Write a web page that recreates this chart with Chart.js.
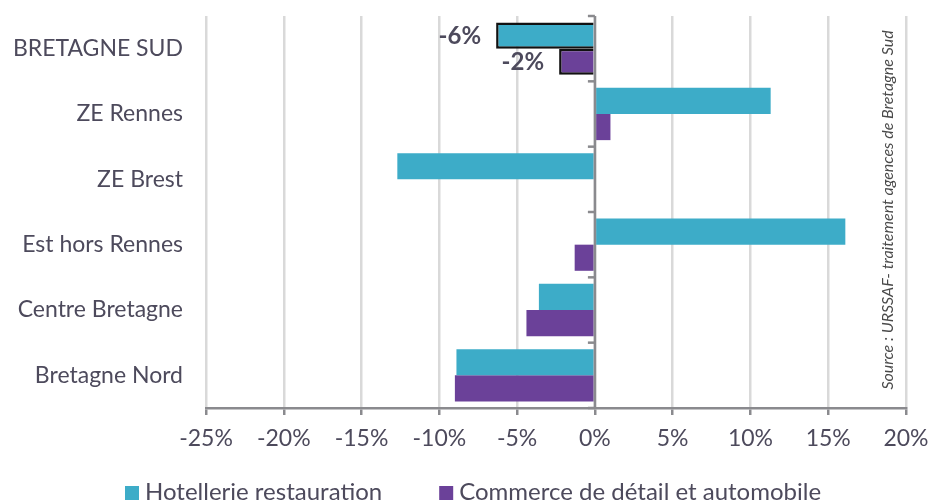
<!DOCTYPE html>
<html><head><meta charset="utf-8">
<script src="https://cdn.jsdelivr.net/npm/chart.js@4.4.1/dist/chart.umd.min.js"></script>
<style>html,body{margin:0;padding:0;background:#fff;overflow:hidden}#wrap{width:931px;height:502px;position:relative}</style>
</head><body><div id="wrap"><canvas id="c"></canvas></div>
<script>
const categories = ['BRETAGNE SUD', 'ZE Rennes', 'ZE Brest', 'Est hors Rennes', 'Centre Bretagne', 'Bretagne Nord'];
const hotellerie = [-6.35, 11.3, -12.7, 16.1, -3.6, -8.9];
const commerce = [-2.3, 1.0, 0.0, -1.3, -4.4, -9.0];
const seriesNames = ['Hotellerie restauration', 'Commerce de détail et automobile'];
const xTickValues = [-25, -20, -15, -10, -5, 0, 5, 10, 15, 20];
const sourceText = 'Source : URSSAF- traitement agences de Bretagne Sud';
const labelledCategory = 'BRETAGNE SUD';

const FONT = 'Lato';
const TXT = '#4d4a5c';
const CYAN = '#3dacc8';
const PURPLE = '#6b4199';
const AXIS = '#8a8a8e';
const hl = categories.map(c => c === labelledCategory);

const extras = {
  id: 'extras',
  afterDatasetsDraw(chart) {
    const ctx = chart.ctx, xs = chart.scales.x, ys = chart.scales.y;
    const x0 = xs.getPixelForValue(0);
    ctx.save();
    // zero axis line
    ctx.strokeStyle = AXIS; ctx.lineWidth = 2.5;
    ctx.beginPath(); ctx.moveTo(x0, chart.chartArea.top); ctx.lineTo(x0, chart.chartArea.bottom); ctx.stroke();
    // category tick marks
    for (let i = 0; i <= categories.length; i++) {
      const y = ys.getPixelForValue(i - 0.5);
      ctx.beginPath(); ctx.moveTo(x0 - 7, y); ctx.lineTo(x0, y); ctx.stroke();
    }
    // value labels for highlighted category
    ctx.font = 'bold 24px ' + FONT; ctx.fillStyle = TXT; ctx.textAlign = 'right'; ctx.textBaseline = 'middle';
    chart.data.datasets.forEach((ds, di) => {
      const meta = chart.getDatasetMeta(di);
      ds.data.forEach((v, i) => {
        if (!hl[i]) return;
        const el = meta.data[i];
        ctx.fillText(Math.round(v) + '%', Math.min(el.x, el.base) - 15, el.y + 1);
      });
    });
    // source
    ctx.font = 'italic 16px ' + FONT; ctx.fillStyle = '#4a4a4a'; ctx.textAlign = 'center';
    ctx.translate(888, 210); ctx.rotate(-Math.PI / 2);
    ctx.fillText(sourceText, 0, 0);
    ctx.restore();
  },
  afterDraw(chart) {
    // legend
    const ctx = chart.ctx;
    ctx.save();
    ctx.font = '24px ' + FONT; ctx.textAlign = 'left'; ctx.textBaseline = 'middle';
    let x = 125; const yc = 492;
    chart.data.datasets.forEach(ds => {
      ctx.fillStyle = ds.backgroundColor;
      ctx.fillRect(x, yc - 6, 14, 14);
      ctx.fillStyle = TXT;
      ctx.fillText(ds.label, x + 20, yc);
      x += 20 + ctx.measureText(ds.label).width + 57;
    });
    ctx.restore();
  }
};

new Chart(document.getElementById('c'), {
  type: 'bar',
  data: {
    labels: categories,
    datasets: [
      { label: seriesNames[0], data: hotellerie, backgroundColor: CYAN,
        borderColor: '#111', borderWidth: hl.map(h => h ? 2.5 : 0) },
      { label: seriesNames[1], data: commerce, backgroundColor: PURPLE,
        borderColor: '#111', borderWidth: hl.map(h => h ? 2.5 : 0) }
    ]
  },
  options: {
    indexAxis: 'y', responsive: true, maintainAspectRatio: false, animation: false,
    layout: { autoPadding: false, padding: { top: 16, right: 25, left: 0, bottom: 44 } },
    categoryPercentage: 0.8, barPercentage: 1.0,
    scales: {
      x: {
        min: -25, max: 20,
        afterBuildTicks: s => { s.ticks = xTickValues.map(v => ({ value: v })); },
        grid: { color: '#d9d9d9', lineWidth: 2.5, drawTicks: true, tickLength: 7, tickColor: AXIS, tickWidth: 2.5 },
        border: { display: true, color: AXIS, width: 2.5 },
        ticks: { color: TXT, font: { family: FONT, size: 23 }, padding: 10, maxRotation: 0, callback: v => v + '%' },
        afterFit: s => { s.height = 50; s.paddingLeft = 0; s.paddingRight = 0; }
      },
      y: {
        grid: { display: false, drawTicks: false },
        border: { display: false },
        ticks: { color: TXT, font: { family: FONT, size: 23 }, padding: 23 },
        afterFit: s => { s.width = 206; s.paddingTop = 0; s.paddingBottom = 0; }
      }
    },
    plugins: {
      legend: { display: false },
      tooltip: { enabled: false }
    }
  },
  plugins: [extras]
});
</script></body></html>
